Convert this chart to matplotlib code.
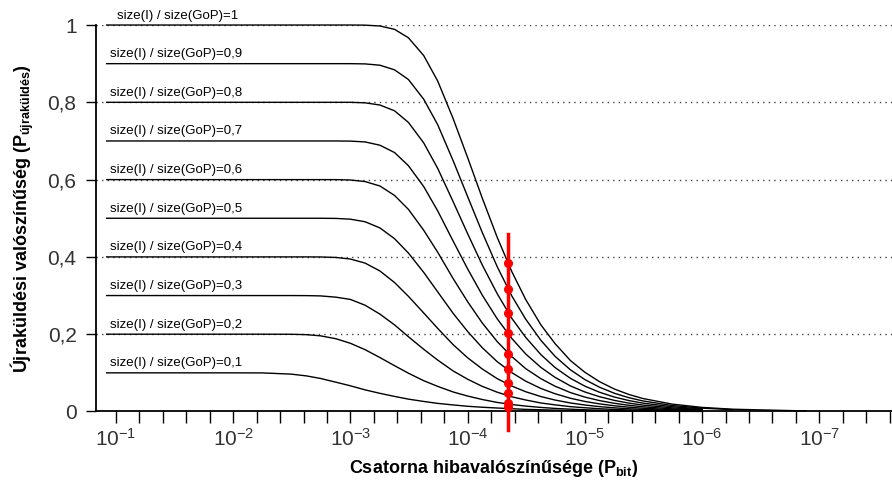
import numpy as np
import matplotlib
matplotlib.use('Agg')
import matplotlib.pyplot as plt
from matplotlib.ticker import LogLocator, FixedLocator, NullFormatter

plt.rcParams['font.family'] = ['Liberation Sans', 'DejaVu Sans']
plt.rcParams['mathtext.fontset'] = 'custom'
plt.rcParams['mathtext.rm'] = 'Liberation Sans'
plt.rcParams['mathtext.bf'] = 'Liberation Sans:bold'
plt.rcParams['axes.unicode_minus'] = False

#%% data
pbit = [0.12, 0.01, 0.0056, 0.0032, 0.00237, 0.0018, 0.00133, 0.001, 7.5e-4, 5.6e-4,
        4.2e-4, 3.2e-4, 2.37e-4, 1.8e-4, 1.33e-4, 1e-4, 7.5e-5, 5.6e-5, 4.2e-5, 3.2e-5,
        2.37e-5, 1.8e-5, 1.33e-5, 1e-5, 7.5e-6, 5.6e-6, 4.2e-6, 3.2e-6, 1.8e-6, 1e-6,
        5.5e-7, 1.3e-7]

ratios = [1, 0.9, 0.8, 0.7, 0.6, 0.5, 0.4, 0.3, 0.2, 0.1]
ratio_labels = ['1', '0,9', '0,8', '0,7', '0,6', '0,5', '0,4', '0,3', '0,2', '0,1']

p_10 = [1, 1, 1, 1, 1, 1, 1, 1, 0.9997, 0.9975, 0.9888, 0.967, 0.921, 0.855, 0.758, 0.657,
        0.552, 0.451, 0.362, 0.290, 0.224, 0.176, 0.132, 0.1015, 0.0772, 0.0581, 0.0439,
        0.0336, 0.0191, 0.0106, 0.0059, 0.0014]
p_09 = [0.9, 0.9, 0.9, 0.9, 0.9, 0.9, 0.9, 0.9, 0.8994, 0.896, 0.884, 0.859, 0.808, 0.742,
        0.649, 0.556, 0.463, 0.375, 0.299, 0.239, 0.184, 0.143, 0.108, 0.0826, 0.0628,
        0.0472, 0.0356, 0.0273, 0.0155, 0.0086, 0.0048]
p_08 = [0.8, 0.8, 0.8, 0.8, 0.8, 0.8, 0.8, 0.8, 0.7987, 0.793, 0.778, 0.748, 0.695, 0.629,
        0.543, 0.460, 0.379, 0.305, 0.241, 0.192, 0.147, 0.114, 0.0859, 0.0656, 0.0498,
        0.0374, 0.0282, 0.0216, 0.0123, 0.0068]
p_07 = [0.7, 0.7, 0.7, 0.7, 0.7, 0.7, 0.7, 0.6996, 0.6975, 0.689, 0.670, 0.636, 0.582, 0.519,
        0.441, 0.369, 0.301, 0.240, 0.189, 0.149, 0.114, 0.0885, 0.0662, 0.0505, 0.0383,
        0.0287, 0.0216, 0.0166, 0.0094, 0.0052]
p_06 = [0.6, 0.6, 0.6, 0.6, 0.6, 0.6, 0.6, 0.599, 0.595, 0.5835, 0.559, 0.523, 0.469, 0.412,
        0.344, 0.284, 0.229, 0.181, 0.142, 0.111, 0.0848, 0.0656, 0.049, 0.0373, 0.0282,
        0.0212, 0.016, 0.0122, 0.0069, 0.0038]
p_05 = [0.5, 0.5, 0.5, 0.5, 0.5, 0.5, 0.4996, 0.4976, 0.491, 0.475, 0.447, 0.410, 0.360,
        0.3095, 0.254, 0.207, 0.165, 0.129, 0.1005, 0.0786, 0.0596, 0.046, 0.0343, 0.026,
        0.0197, 0.0148, 0.0111, 0.0085, 0.0048, 0.0027]
p_04 = [0.4, 0.4, 0.4, 0.4, 0.4, 0.3998, 0.3986, 0.3945, 0.384, 0.3636, 0.3336, 0.298, 0.255,
        0.215, 0.173, 0.139, 0.110, 0.0851, 0.0658, 0.0512, 0.0386, 0.0297, 0.0221, 0.0168,
        0.0126, 0.0095, 0.0071, 0.0054, 0.0031, 0.0017]
p_03 = [0.3, 0.3, 0.3, 0.3, 0.2998, 0.2991, 0.2958, 0.290, 0.275, 0.252, 0.224, 0.1935,
        0.161, 0.133, 0.105, 0.0835, 0.065, 0.050, 0.038, 0.0298, 0.022, 0.0172, 0.0125,
        0.0097, 0.0071, 0.0054, 0.0040, 0.0031, 0.0017, 0.001]
p_02 = [0.2, 0.2, 0.2, 0.1998, 0.1988, 0.1958, 0.1883, 0.1765, 0.160, 0.1396, 0.1185, 0.0991,
        0.0797, 0.065, 0.0505, 0.040, 0.031, 0.0235, 0.018, 0.014, 0.0105, 0.008, 0.006,
        0.0045, 0.0034, 0.0025, 0.0019, 0.0014, 0.0008, 0.0004]
p_01 = [0.1, 0.1, 0.0998, 0.0967, 0.0921, 0.0855, 0.0758, 0.0665, 0.056, 0.047, 0.039, 0.032,
        0.026, 0.021, 0.017, 0.0135, 0.011, 0.009, 0.0072, 0.0055, 0.0045, 0.0035, 0.0027,
        0.002, 0.0016, 0.0012, 0.0009, 0.0007, 0.0004, 0.0002]
curves = [p_10, p_09, p_08, p_07, p_06, p_05, p_04, p_03, p_02, p_01]

red_pbit = 4.5e-5
red_span = [-0.048, 0.46]
red_dots = [0.383, 0.316, 0.254, 0.202, 0.150, 0.111, 0.075, 0.049, 0.023, 0.012]

yticks = [0, 0.2, 0.4, 0.6, 0.8, 1]
ytick_labels = ['0', '0,2', '0,4', '0,6', '0,8', '1']
xticks = [1e-1, 1e-2, 1e-3, 1e-4, 1e-5, 1e-6, 1e-7]

#%% plot
fig = plt.figure(figsize=(8.92, 4.84), dpi=100)
ax = fig.add_axes([0.1076, 0.1498, 0.8924, 0.7985])

for y in yticks[1:]:
    ax.axhline(y, color='#444444', lw=1, ls=(0, (1, 3)), zorder=1)

for r, lbl, c in zip(ratios, ratio_labels, curves):
    ax.plot(pbit[:len(c)], c, color='black', lw=1.0, clip_on=False, zorder=3)
    lx = 0.098 if r == 1 else 0.112
    ax.annotate('size(I) / size(GoP)=' + lbl, xy=(lx, r), xytext=(0, 2.5),
                textcoords='offset points', fontsize=9.5, ha='left', va='bottom')

ax.plot([red_pbit, red_pbit], red_span, color='red', lw=2.5, clip_on=False, zorder=4)
ax.plot([red_pbit] * len(red_dots), red_dots, 'o', color='red', ms=5.5,
        clip_on=False, zorder=5)

ax.set_xscale('log')
ax.set_xlim(0.148, 2.4e-8)
ax.set_ylim(0, 1)
ax.xaxis.set_major_locator(FixedLocator(xticks))
ax.xaxis.set_minor_locator(LogLocator(base=10, subs=[10**0.2, 10**0.4, 10**0.6, 10**0.8], numticks=50))
ax.xaxis.set_minor_formatter(NullFormatter())
ax.set_yticks(yticks)
ax.set_yticklabels(ytick_labels)

for s in ['top', 'right']:
    ax.spines[s].set_visible(False)
for s in ['left', 'bottom']:
    ax.spines[s].set_linewidth(1.3)

ax.tick_params(axis='x', which='both', direction='out', length=8.5, width=1, pad=3,
               labelsize=15, labelcolor='#333333')
ax.tick_params(axis='y', direction='out', length=7, width=1, pad=7,
               labelsize=15, labelcolor='#333333')

ax.set_xlabel(r'Csatorna hibavalószínűsége ($\mathbf{P_{bit}}$)', fontsize=13,
              fontweight='bold', labelpad=6)
ax.set_ylabel(r'Újraküldési valószínűség ($\mathbf{P_{újraküldés}}$)', fontsize=13,
              fontweight='bold', labelpad=8)

plt.savefig('out.png', dpi=100)
